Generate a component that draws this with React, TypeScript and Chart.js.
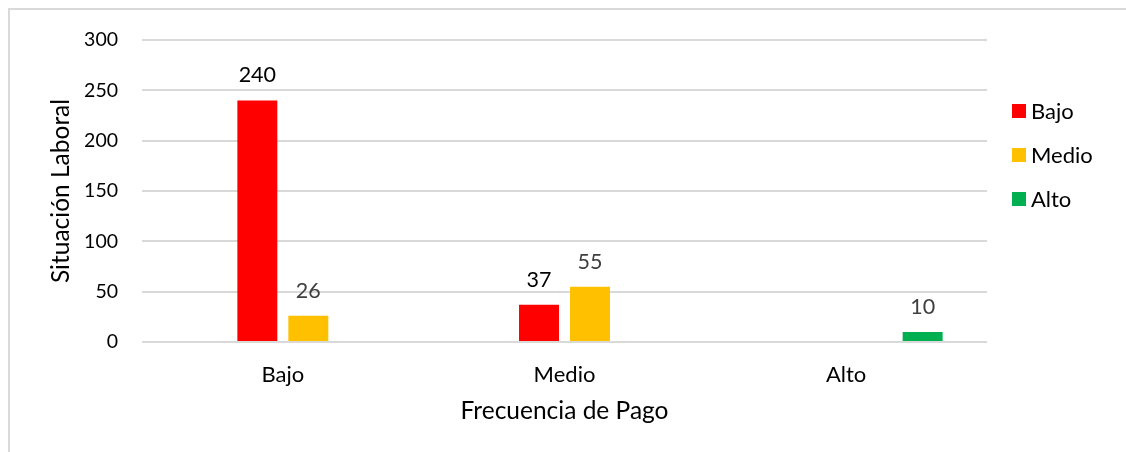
import React, { useEffect, useRef } from "react";
import { Chart, registerables } from "chart.js";

Chart.register(...registerables);

const categories = ["Bajo", "Medio", "Alto"];
const seriesNames = ["Bajo", "Medio", "Alto"];
const spacerValues: (number | null)[] = [null, null, null];
const bajoValues: (number | null)[] = [240, 37, null];
const medioValues: (number | null)[] = [26, 55, null];
const altoValues: (number | null)[] = [null, null, 10];
const yMin = 0;
const yMax = 300;
const yStep = 50;
const xTitle = "Frecuencia de Pago";
const yTitle = "Situación Laboral";

const seriesColors = ["#FF0000", "#FFC000", "#00B050"];
const valueLabelColors = ["#000000", "#404040", "#404040"];
const FONT = "Lato, 'Open Sans', sans-serif";

const valueLabelsPlugin = {
  id: "valueLabels",
  afterDatasetsDraw(chart: any) {
    const ctx = chart.ctx;
    ctx.save();
    ctx.font = `21.5px ${FONT}`;
    ctx.textAlign = "center";
    ctx.textBaseline = "middle";
    chart.data.datasets.forEach((ds: any, di: number) => {
      if (ds.isSpacer) return;
      const meta = chart.getDatasetMeta(di);
      meta.data.forEach((el: any, i: number) => {
        const v = ds.data[i];
        if (v === null || v === undefined) return;
        ctx.fillStyle = ds.valueColor;
        ctx.fillText(String(v), el.x, el.y - 25);
      });
    });
    ctx.restore();
  },
};

const legendPlugin = {
  id: "customLegend",
  afterDraw(chart: any) {
    const ctx = chart.ctx;
    ctx.save();
    ctx.font = `22px ${FONT}`;
    ctx.textAlign = "left";
    ctx.textBaseline = "middle";
    const items = chart.data.datasets.filter((d: any) => !d.isSpacer);
    items.forEach((ds: any, i: number) => {
      const cy = 111 + i * 44;
      ctx.fillStyle = ds.backgroundColor;
      ctx.fillRect(1012, cy - 7, 14, 14);
      ctx.fillStyle = "#000000";
      ctx.fillText(ds.label, 1031, cy + 1);
    });
    ctx.restore();
  },
};

function App() {
  const ref = useRef<HTMLCanvasElement | null>(null);
  useEffect(() => {
    if (!ref.current) return;
    const chart = new Chart(ref.current, {
      type: "bar",
      data: {
        labels: categories,
        datasets: [
          { label: "", data: spacerValues, isSpacer: true, backgroundColor: "transparent" } as any,
          { label: seriesNames[0], data: bajoValues, backgroundColor: seriesColors[0], valueColor: valueLabelColors[0] } as any,
          { label: seriesNames[1], data: medioValues, backgroundColor: seriesColors[1], valueColor: valueLabelColors[1] } as any,
          { label: seriesNames[2], data: altoValues, backgroundColor: seriesColors[2], valueColor: valueLabelColors[2] } as any,
        ],
      },
      options: {
        animation: false,
        responsive: false,
        maintainAspectRatio: false,
        datasets: { bar: { categoryPercentage: 0.724, barPercentage: 0.784 } },
        layout: { padding: { left: 0, right: 139, top: 40, bottom: 0 } },
        plugins: { legend: { display: false }, tooltip: { enabled: false } },
        scales: {
          x: {
            grid: { display: false, drawTicks: false },
            border: { display: false },
            ticks: { color: "#000000", font: { family: FONT, size: 22 }, padding: 20 },
            title: { display: true, text: xTitle, color: "#000000", font: { family: FONT, size: 24.5 }, padding: { top: 10, bottom: 26 } },
            afterFit: (s: any) => { s.height = 110; },
          },
          y: {
            min: yMin,
            max: yMax,
            ticks: { stepSize: yStep, color: "#000000", font: { family: FONT, size: 19.5 }, padding: 24 },
            grid: { color: "#d9d9d9", lineWidth: 2, drawTicks: false },
            border: { display: false },
            title: { display: true, text: yTitle, color: "#000000", font: { family: FONT, size: 24.5 }, padding: { top: 46, bottom: 10 } },
            afterFit: (s: any) => { s.width = 142; },
          },
        },
      } as any,
      plugins: [valueLabelsPlugin, legendPlugin],
    });
    return () => chart.destroy();
  }, []);
  return (
    <div style={{ position: "fixed", left: 0, top: 0, width: 1126, height: 452, overflow: "hidden", background: "#ffffff" }}>
      <div style={{ position: "absolute", left: 8, top: 8, width: 1300, height: 600, border: "2px solid #d9d9d9", boxSizing: "border-box" }} />
      <canvas ref={ref} width={1126} height={452} style={{ position: "absolute", left: 0, top: 0, width: 1126, height: 452 }} />
    </div>
  );
}

export default App;
